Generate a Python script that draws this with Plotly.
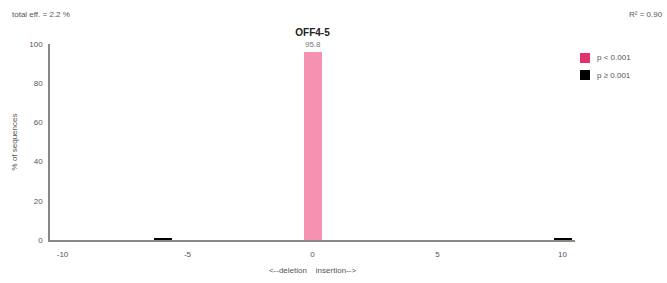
import plotly.graph_objects as go

sig_x = [0]
sig_y = [95.8]
nonsig_x = [-6, 10]
nonsig_y = [1.0, 1.2]
x_ticks = [-10, -5, 0, 5, 10]
x_tick_labels = ["-10", "-5", "0", "5", "10"]
y_ticks = [0, 20, 40, 60, 80, 100]
legend_labels = ["p < 0.001", "p ≥ 0.001"]
legend_colors = ["#e0336e", "#000000"]

FONT = "Liberation Sans, Arial, sans-serif"
W, H = 667, 283
L, R, T, B = 50, 92, 44, 43
pw, ph = W - L - R, H - T - B


def px2paper(px, py):
    return (px - L) / pw, (H - B - py) / ph


fig = go.Figure()
fig.add_trace(go.Bar(x=sig_x, y=sig_y, width=0.72, name=legend_labels[0],
                     marker=dict(color="#f592b2", line=dict(width=0)),
                     text=[f"{v}" for v in sig_y], textposition="outside",
                     textfont=dict(size=8, color="#777", family=FONT),
                     cliponaxis=False, showlegend=False))
fig.add_trace(go.Bar(x=nonsig_x, y=nonsig_y, width=0.72, name=legend_labels[1],
                     marker=dict(color="#000000", line=dict(width=0)),
                     showlegend=False))

annotations = []
shapes = []
for lbl, px, py in [("total eff. = 2.2 %", 10, 15), ("R² = 0.90", 627, 15)]:
    ax, ay = px2paper(px, py)
    annotations.append(dict(text=lbl, x=ax, y=ay, xref="paper", yref="paper",
                            showarrow=False, xanchor="left", yanchor="middle",
                            font=dict(size=8, color="#555")))
for i, (lbl, col) in enumerate(zip(legend_labels, legend_colors)):
    cy = 58 + i * 17
    x0, y0 = px2paper(580, cy + 5)
    x1, y1 = px2paper(590, cy - 5)
    shapes.append(dict(type="rect", xref="paper", yref="paper", x0=x0, y0=y0,
                       x1=x1, y1=y1, fillcolor=col, line=dict(width=0)))
    tx, ty = px2paper(595, cy)
    annotations.append(dict(text=lbl, x=tx, y=ty, xref="paper", yref="paper",
                            showarrow=False, xanchor="left", yanchor="middle",
                            font=dict(size=8, color="#555")))

fig.update_layout(
    width=W, height=H,
    margin=dict(l=L, r=R, t=T, b=B, autoexpand=False),
    paper_bgcolor="white", plot_bgcolor="white",
    font=dict(family=FONT, size=8, color="#555"),
    title=dict(text="<b>OFF4-5</b>", x=0.5, xanchor="center", xref="paper",
               y=1 - 32 / H, yanchor="middle", yref="container",
               font=dict(size=10, color="#222", family=FONT)),
    showlegend=False,
    bargap=0,
    xaxis=dict(range=[-10.5, 10.5], tickvals=x_ticks, ticktext=x_tick_labels,
               ticks="", showgrid=False, ticklabelstandoff=6,
               zeroline=False, showline=True, linecolor="#888", linewidth=1.5,
               automargin=False,
               tickfont=dict(size=8, color="#555"),
               title=dict(text="<--deletion    insertion-->", standoff=9,
                          font=dict(size=8, color="#555"))),
    yaxis=dict(range=[0, 100], tickvals=y_ticks, ticks="", showgrid=False,
               zeroline=False, showline=True, linecolor="#888", linewidth=1.5,
               automargin=False, ticklabelstandoff=4,
               tickfont=dict(size=8, color="#555"),
               title=dict(text="% of sequences", standoff=10,
                          font=dict(size=8, color="#555"))),
    annotations=annotations,
    shapes=shapes,
)

fig.write_html("out.html", config={"displayModeBar": False},
               post_script="document.body.style.margin='0';document.body.style.overflow='hidden';")
